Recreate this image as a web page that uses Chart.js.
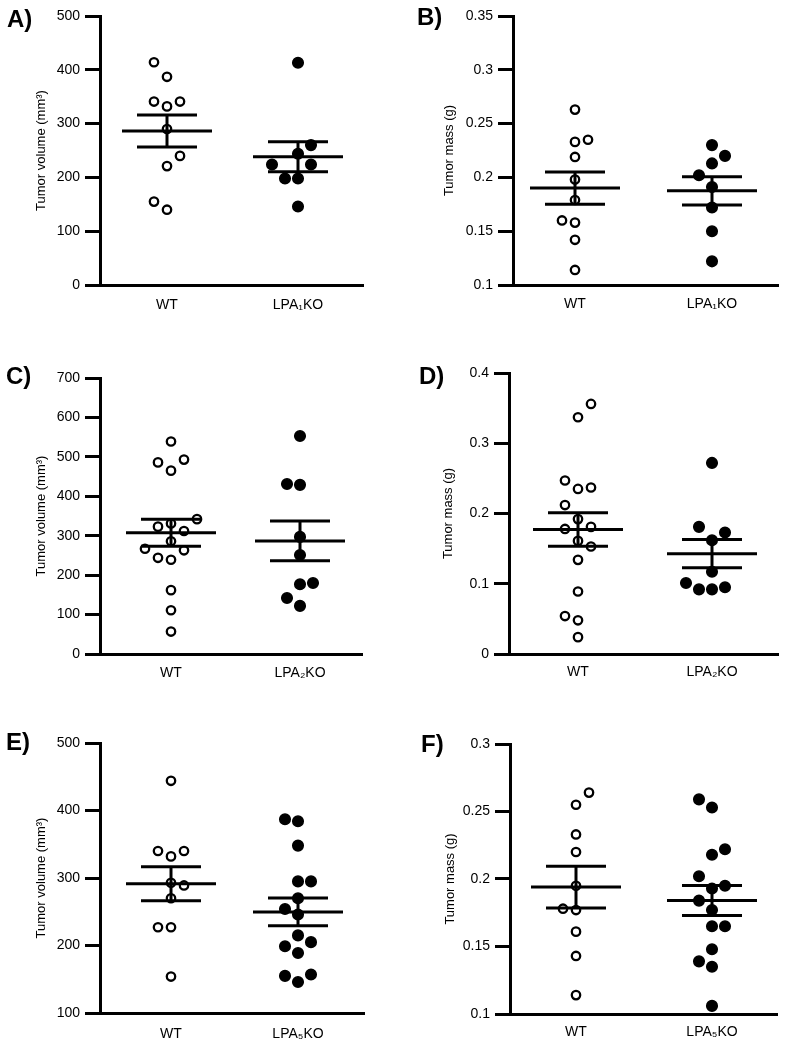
<!DOCTYPE html>
<html><head><meta charset="utf-8">
<script src="https://cdn.jsdelivr.net/npm/chart.js@4.4.1/dist/chart.umd.min.js"></script>
<style>
html,body{margin:0;padding:0;background:#fff;}
body{width:785px;height:1050px;position:relative;overflow:hidden;font-family:"Liberation Sans",Arial,sans-serif;}
canvas{position:absolute;}
.lbl{position:absolute;font-weight:bold;font-size:24px;line-height:24px;color:#000;white-space:nowrap;}
</style></head><body>
<canvas id="cA" width="390" height="330" style="left:0px;top:0px"></canvas>
<canvas id="cB" width="395" height="330" style="left:390px;top:0px"></canvas>
<canvas id="cC" width="390" height="350" style="left:0px;top:330px"></canvas>
<canvas id="cD" width="395" height="350" style="left:390px;top:330px"></canvas>
<canvas id="cE" width="390" height="370" style="left:0px;top:680px"></canvas>
<canvas id="cF" width="395" height="370" style="left:390px;top:680px"></canvas>
<div class="lbl" style="left:7px;top:7px">A)</div>
<div class="lbl" style="left:417px;top:5px">B)</div>
<div class="lbl" style="left:6px;top:364px">C)</div>
<div class="lbl" style="left:419px;top:364px">D)</div>
<div class="lbl" style="left:6px;top:730px">E)</div>
<div class="lbl" style="left:421px;top:732px">F)</div>
<script>
// ---------- data ----------
const catsA = ["WT", "LPA\u2081KO"];
const catsC = ["WT", "LPA\u2082KO"];
const catsE = ["WT", "LPA\u2085KO"];
const titleVol = "Tumor volume (mm\u00B3)";
const titleMass = "Tumor mass (g)";

const volA_WT = [414, 387, 341, 332, 341, 290, 240, 221, 155, 140];
const volA_KO = [413, 260, 244, 224, 224, 198, 198, 146];
const massB_WT = [0.263, 0.235, 0.233, 0.219, 0.198, 0.179, 0.160, 0.158, 0.142, 0.114];
const massB_KO = [0.230, 0.220, 0.213, 0.202, 0.191, 0.172, 0.150, 0.122];
const volC_WT = [539, 486, 493, 465, 342, 331, 323, 312, 286, 267, 263, 244, 239, 162, 111, 57];
const volC_KO = [553, 431, 429, 297, 251, 177, 180, 142, 122];
const massD_WT = [0.356, 0.337, 0.247, 0.235, 0.237, 0.212, 0.192, 0.178, 0.181, 0.161, 0.153, 0.134, 0.089, 0.054, 0.048, 0.024];
const massD_KO = [0.272, 0.181, 0.173, 0.162, 0.117, 0.101, 0.092, 0.092, 0.095];
const volE_WT = [444, 340, 332, 340, 293, 289, 270, 227, 227, 154];
const volE_KO = [387, 384, 348, 295, 295, 270, 254, 246, 215, 199, 205, 189, 155, 157, 146];
const massF_WT = [0.264, 0.255, 0.233, 0.220, 0.195, 0.178, 0.177, 0.161, 0.143, 0.114];
const massF_KO = [0.259, 0.253, 0.222, 0.218, 0.202, 0.193, 0.195, 0.184, 0.177, 0.165, 0.165, 0.148, 0.139, 0.135, 0.106];

const ticksA = [0, 100, 200, 300, 400, 500];
const tickLabelsA = ["0", "100", "200", "300", "400", "500"];
const ticksB = [0.1, 0.15, 0.2, 0.25, 0.3, 0.35];
const tickLabelsB = ["0.1", "0.15", "0.2", "0.25", "0.3", "0.35"];
const ticksC = [0, 100, 200, 300, 400, 500, 600, 700];
const tickLabelsC = ["0", "100", "200", "300", "400", "500", "600", "700"];
const ticksD = [0, 0.1, 0.2, 0.3, 0.4];
const tickLabelsD = ["0", "0.1", "0.2", "0.3", "0.4"];
const ticksE = [100, 200, 300, 400, 500];
const tickLabelsE = ["100", "200", "300", "400", "500"];
const ticksF = [0.1, 0.15, 0.2, 0.25, 0.3];
const tickLabelsF = ["0.1", "0.15", "0.2", "0.25", "0.3"];

// ---------- layout (canvas-relative plot areas) ----------
const geo = {
  A: {w:390, h:330, l:100, r:363, t:16, b:285, cat:[167, 298], titleX:41, pad:12},
  B: {w:395, h:330, l:123, r:388, t:16, b:285, cat:[185, 322], titleX:59, pad:11},
  C: {w:390, h:350, l:100, r:362, t:48, b:324, cat:[171, 300], titleX:41, pad:10.5},
  D: {w:395, h:350, l:119, r:388, t:43, b:324, cat:[188, 322], titleX:58.5, pad:10},
  E: {w:390, h:370, l:100, r:364, t:63, b:333, cat:[171, 298], titleX:41, pad:13},
  F: {w:395, h:370, l:120, r:387, t:64, b:334, cat:[186, 322], titleX:60, pad:9.6}
};

Chart.defaults.font.family = "'Liberation Sans', Arial, Helvetica, sans-serif";
Chart.defaults.color = '#000';

function meanSem(v) {
  const n = v.length;
  const m = v.reduce((a, b) => a + b, 0) / n;
  const sd = Math.sqrt(v.reduce((a, b) => a + (b - m) * (b - m), 0) / (n - 1));
  return [m, sd / Math.sqrt(n)];
}

// column-scatter layout: points that would overlap are moved to side columns
function swarm(values, thr) {
  const order = values.map((v, i) => i).sort((a, b) => values[a] - values[b]);
  const placed = [];
  const slots = new Array(values.length);
  let side = -1;
  for (const i of order) {
    const v = values[i];
    const free = s => !placed.some(p => p.s === s && Math.abs(p.v - v) < thr);
    let slot = 0;
    if (!free(0)) {
      let k = 1, found = null;
      while (found === null) {
        if (free(side * k)) found = side * k;
        else if (free(-side * k)) found = -side * k;
        else k++;
      }
      slot = found;
      side = -Math.sign(found);
    }
    slots[i] = slot;
    placed.push({s: slot, v: v});
  }
  return slots;
}

function makePanel(id, g, cats, wt, ko, yTicks, yLabels, yTitle) {
  const ppu = g.cat[1] - g.cat[0];
  const xmin = 1 - (g.cat[0] - g.l) / ppu;
  const xmax = 2 + (g.r - g.cat[1]) / ppu;
  const ymin = yTicks[0], ymax = yTicks[yTicks.length - 1];
  const ppy = (g.b - g.t) / (ymax - ymin);
  const thr = 15 / ppy;
  const slotW = 13 / ppu, halfMean = 45 / ppu, halfCap = 30 / ppu;
  const datasets = [];
  [wt, ko].forEach((vals, gi) => {
    const cx = gi + 1;
    const slots = swarm(vals, thr);
    const [m, se] = meanSem(vals);
    const seg = pts => ({type: 'line', data: pts, borderColor: '#000', borderWidth: 3,
      pointRadius: 0, fill: false, clip: false, order: 0, borderCapStyle: 'butt', tension: 0});
    datasets.push(seg([{x: cx - halfMean, y: m}, {x: cx + halfMean, y: m}]));
    datasets.push(seg([{x: cx - halfCap, y: m + se}, {x: cx + halfCap, y: m + se}]));
    datasets.push(seg([{x: cx - halfCap, y: m - se}, {x: cx + halfCap, y: m - se}]));
    datasets.push(seg([{x: cx, y: m - se}, {x: cx, y: m + se}]));
    datasets.push({
      type: 'scatter',
      data: vals.map((v, i) => ({x: cx + slots[i] * slotW, y: v})),
      pointRadius: gi ? 5.3 : 4.2,
      pointBorderWidth: gi ? 1.5 : 2.3,
      pointBackgroundColor: gi ? '#000' : '#fff',
      pointBorderColor: '#000',
      pointHoverRadius: 0,
      clip: false, order: 1
    });
  });
  new Chart(document.getElementById(id), {
    type: 'scatter',
    data: {datasets},
    options: {
      responsive: false, animation: false, devicePixelRatio: 1, events: [],
      layout: {padding: {left: 0, top: g.t, right: g.w - g.r, bottom: 0}},
      plugins: {legend: {display: false}, tooltip: {enabled: false}},
      scales: {
        x: {
          type: 'linear', min: xmin, max: xmax,
          afterBuildTicks: s => { s.ticks = [{value: 1}, {value: 2}]; },
          afterFit: s => { s.height = g.h - g.b; },
          grid: {display: false, drawTicks: false},
          border: {display: true, width: 3, color: '#000'},
          ticks: {callback: (v, i) => cats[i], font: {size: 14}, color: '#000',
                  padding: g.pad, maxRotation: 0, autoSkip: false}
        },
        y: {
          type: 'linear', min: ymin, max: ymax,
          afterBuildTicks: s => { s.ticks = yTicks.map(v => ({value: v})); },
          afterFit: s => { s.width = g.l; },
          grid: {display: true, drawOnChartArea: false, drawTicks: true, tickLength: 15,
                 lineWidth: 3, color: '#000'},
          border: {display: true, width: 3, color: '#000'},
          ticks: {callback: (v, i) => yLabels[i], font: {size: 14}, color: '#000',
                  padding: 5, autoSkip: false},
          title: {display: true, text: yTitle, font: {size: 13}, color: '#000',
                  padding: {top: g.titleX - 7.8, bottom: 0}}
        }
      }
    }
  });
}

makePanel('cA', geo.A, catsA, volA_WT, volA_KO, ticksA, tickLabelsA, titleVol);
makePanel('cB', geo.B, catsA, massB_WT, massB_KO, ticksB, tickLabelsB, titleMass);
makePanel('cC', geo.C, catsC, volC_WT, volC_KO, ticksC, tickLabelsC, titleVol);
makePanel('cD', geo.D, catsC, massD_WT, massD_KO, ticksD, tickLabelsD, titleMass);
makePanel('cE', geo.E, catsE, volE_WT, volE_KO, ticksE, tickLabelsE, titleVol);
makePanel('cF', geo.F, catsE, massF_WT, massF_KO, ticksF, tickLabelsF, titleMass);
</script>
</body></html>
